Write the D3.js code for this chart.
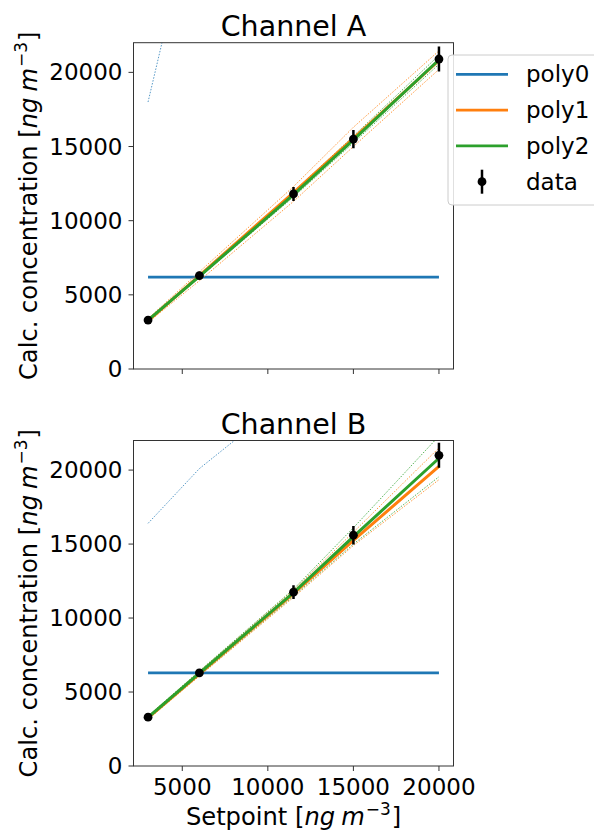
<!DOCTYPE html>
<html>
<head>
<meta charset="utf-8">
<script src="https://cdn.jsdelivr.net/npm/d3@7"></script>
<style>
  body { margin: 0; background: #fff; }
  svg { font-family: 'DejaVu Sans', sans-serif; }
</style>
</head>
<body>
<div id="chart"></div>
<script>
// setpoints shared by both channels
const setpoint = [3000, 6000, 11500, 15000, 20000]

// channel A
const measA = [3300, 6300, 11800, 15500, 20900]
const errA = [130, 250, 470, 620, 840]
const poly0A = 6200
const poly0UpperA = [18000, 32700]
const poly1A = [3250, 6300, 11900, 15550, 20800]
const poly1UpperA = [3400, 6550, 12300, 16300, 21450]
const poly1LowerA = [3150, 5950, 11300, 15000, 20200]
const poly2A = [3300, 6250, 11750, 15450, 20850]
const poly2UpperA = [3350, 6370, 11950, 15700, 21150]
const poly2LowerA = [3230, 6170, 11600, 15250, 20550]

// channel B
const measB = [3300, 6300, 11750, 15600, 21000]
const errB = [130, 250, 470, 625, 840]
const poly0B = 6300
const poly0UpperB = [16400, 20100, 25200]
const poly1B = [3250, 6230, 11650, 15250, 20250]
const poly1UpperB = [3350, 6400, 11900, 15800, 21500]
const poly1LowerB = [3150, 6080, 11400, 14900, 19350]
const poly2B = [3290, 6280, 11720, 15500, 20800]
const poly2UpperB = [3380, 6420, 11950, 16100, 22300]
const poly2LowerB = [3180, 6120, 11480, 15000, 19550]

const xTicks = [5000, 10000, 15000, 20000]
const yTicks = [0, 5000, 10000, 15000, 20000]
const legendLabels = ['poly0', 'poly1', 'poly2', 'data']

const colors = { poly0: '#1f77b4', poly1: '#ff7f0e', poly2: '#2ca02c' }
const fontSize = 23
const labelSize = 24.2

const svg = d3.select('#chart').append('svg')
  .attr('width', 594)
  .attr('height', 830)

const left = 133.5
const right = 453.5
const x = d3.scaleLinear().domain([2150, 20850]).range([left, right])

function unitLabel (sel, prefix) {
  sel.append('tspan').text(prefix + ' [')
  sel.append('tspan').attr('font-style', 'italic').text('ng')
  sel.append('tspan').attr('font-style', 'italic').attr('dx', 6).text('m')
  sel.append('tspan').attr('font-size', labelSize * 0.7).attr('dx', 1).attr('dy', -10).text('−3')
  sel.append('tspan').attr('dx', 1).attr('dy', 10).text(']')
}

function drawPanel (id, top, bottom, title, d, showXLabels) {
  const y = d3.scaleLinear().domain([0, 22000]).range([bottom, top])
  const g = svg.append('g')

  g.append('clipPath').attr('id', 'clip-' + id)
    .append('rect')
    .attr('x', left).attr('y', top)
    .attr('width', right - left).attr('height', bottom - top)

  const plot = g.append('g').attr('clip-path', 'url(#clip-' + id + ')')
  const line = d3.line().x(p => x(p[0])).y(p => y(p[1]))
  const pts = vals => vals.map((v, i) => [setpoint[i], v])

  // poly0: flat fit plus its upper band
  plot.append('path')
    .attr('d', line([[setpoint[0], d.poly0], [setpoint[4], d.poly0]]))
    .attr('fill', 'none').attr('stroke', colors.poly0).attr('stroke-width', 2.8)
  plot.append('path')
    .attr('d', line(pts(d.poly0Upper)))
    .attr('fill', 'none').attr('stroke', colors.poly0).attr('stroke-width', 1)
    .attr('stroke-dasharray', '1.5,1.5').attr('opacity', 0.75)

  // bands
  ;[['poly1', d.poly1Upper], ['poly1', d.poly1Lower], ['poly2', d.poly2Upper], ['poly2', d.poly2Lower]]
    .forEach(([k, vals]) => {
      plot.append('path')
        .attr('d', line(pts(vals)))
        .attr('fill', 'none').attr('stroke', colors[k]).attr('stroke-width', 1)
        .attr('stroke-dasharray', '1.5,1.5').attr('opacity', 0.8)
    })

  plot.append('path')
    .attr('d', line(pts(d.poly1)))
    .attr('fill', 'none').attr('stroke', colors.poly1).attr('stroke-width', 3)
  plot.append('path')
    .attr('d', line(pts(d.poly2)))
    .attr('fill', 'none').attr('stroke', colors.poly2).attr('stroke-width', 3)

  // data with error bars
  const pt = plot.selectAll('g.pt')
    .data(d.meas.map((v, i) => ({ x: setpoint[i], y: v, e: d.err[i] })))
    .enter().append('g').attr('class', 'pt')
  pt.append('line')
    .attr('x1', p => x(p.x)).attr('x2', p => x(p.x))
    .attr('y1', p => y(p.y - p.e)).attr('y2', p => y(p.y + p.e))
    .attr('stroke', '#000').attr('stroke-width', 2.5)
  pt.append('circle')
    .attr('cx', p => x(p.x)).attr('cy', p => y(p.y)).attr('r', 4.4)
    .attr('fill', '#000')

  // spines
  g.append('rect')
    .attr('x', left).attr('y', top)
    .attr('width', right - left).attr('height', bottom - top)
    .attr('fill', 'none').attr('stroke', '#333').attr('stroke-width', 1)

  // y axis
  const yt = g.selectAll('g.yt').data(yTicks).enter().append('g')
  yt.append('line')
    .attr('x1', left - 5).attr('x2', left)
    .attr('y1', v => y(v)).attr('y2', v => y(v))
    .attr('stroke', '#333')
  yt.append('text')
    .attr('x', left - 11).attr('y', v => y(v) + 8)
    .attr('text-anchor', 'end').attr('font-size', fontSize)
    .text(v => v)

  // x axis
  const xt = g.selectAll('g.xt').data(xTicks).enter().append('g')
  xt.append('line')
    .attr('x1', v => x(v)).attr('x2', v => x(v))
    .attr('y1', bottom).attr('y2', bottom + 5)
    .attr('stroke', '#333')
  if (showXLabels) {
    xt.append('text')
      .attr('x', v => x(v)).attr('y', bottom + 29)
      .attr('text-anchor', 'middle').attr('font-size', fontSize)
      .text(v => v)
  }

  g.append('text')
    .attr('x', (left + right) / 2).attr('y', top - 7)
    .attr('text-anchor', 'middle').attr('font-size', 28.5)
    .text(title)

  const yl = g.append('text')
    .attr('transform', 'translate(37,' + (top + bottom) / 2 + ') rotate(-90)')
    .attr('text-anchor', 'middle').attr('font-size', labelSize)
  unitLabel(yl, 'Calc. concentration')
}

drawPanel('a', 42.7, 369, 'Channel A', {
  meas: measA, err: errA, poly0: poly0A, poly0Upper: poly0UpperA,
  poly1: poly1A, poly1Upper: poly1UpperA, poly1Lower: poly1LowerA,
  poly2: poly2A, poly2Upper: poly2UpperA, poly2Lower: poly2LowerA
}, false)

drawPanel('b', 440.5, 766, 'Channel B', {
  meas: measB, err: errB, poly0: poly0B, poly0Upper: poly0UpperB,
  poly1: poly1B, poly1Upper: poly1UpperB, poly1Lower: poly1LowerB,
  poly2: poly2B, poly2Upper: poly2UpperB, poly2Lower: poly2LowerB
}, true)

const xl = svg.append('text')
  .attr('x', (left + right) / 2).attr('y', 825)
  .attr('text-anchor', 'middle').attr('font-size', labelSize)
unitLabel(xl, 'Setpoint')

// legend
const legend = svg.append('g')
legend.append('rect')
  .attr('x', 448).attr('y', 55).attr('width', 170).attr('height', 150)
  .attr('rx', 4).attr('fill', '#fff').attr('fill-opacity', 0.85)
  .attr('stroke', '#ccc').attr('stroke-width', 1)

const entry = legend.selectAll('g.entry').data(legendLabels).enter().append('g')
  .attr('transform', (d, i) => 'translate(0,' + (74.3 + i * 35.8) + ')')
entry.filter(d => d !== 'data').append('line')
  .attr('x1', 456).attr('x2', 508).attr('y1', 0).attr('y2', 0)
  .attr('stroke', d => colors[d]).attr('stroke-width', 2.8)
const dataKey = entry.filter(d => d === 'data')
dataKey.append('line')
  .attr('x1', 482).attr('x2', 482).attr('y1', -12).attr('y2', 12)
  .attr('stroke', '#000').attr('stroke-width', 2.5)
dataKey.append('circle')
  .attr('cx', 482).attr('cy', 0).attr('r', 4.4).attr('fill', '#000')
entry.append('text')
  .attr('x', 526).attr('y', 8).attr('font-size', fontSize)
  .text(d => d)
</script>
</body>
</html>
